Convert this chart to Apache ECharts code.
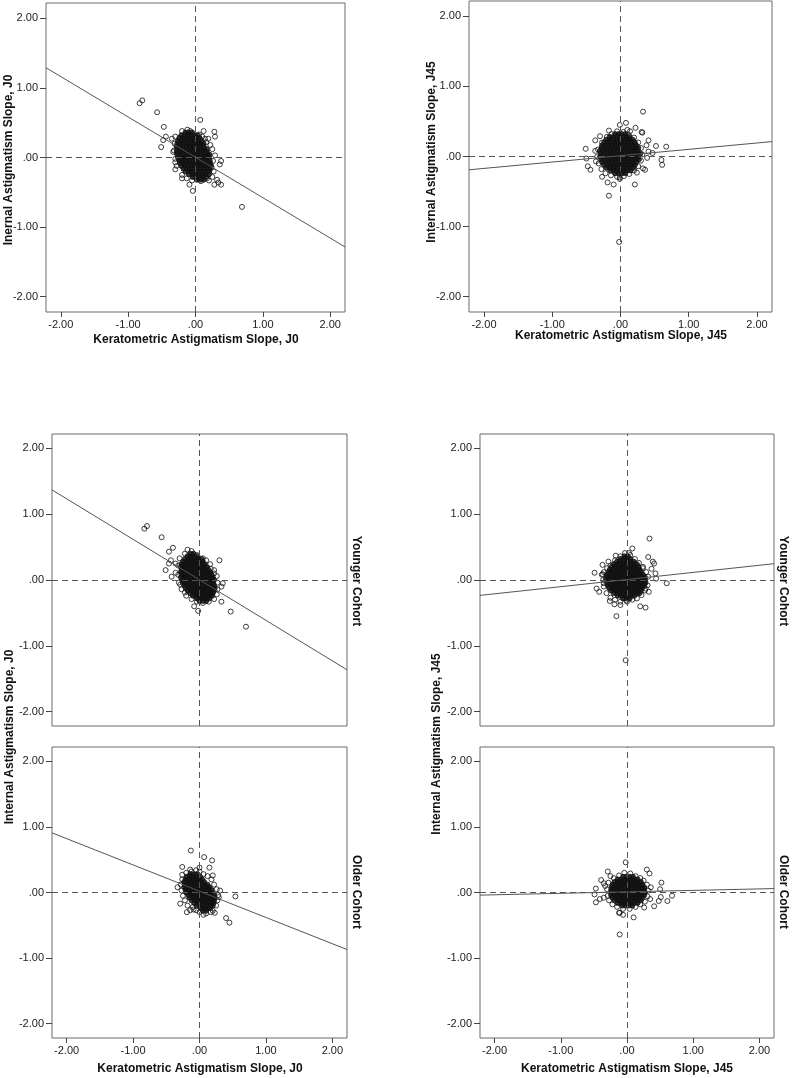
<!DOCTYPE html>
<html><head><meta charset="utf-8">
<script src="https://cdn.jsdelivr.net/npm/echarts@6/dist/echarts.min.js"></script>
<style>html,body{margin:0;padding:0;background:#fff}#c{width:792px;height:1078px}</style>
</head><body><div id="c"></div>
<script>
// ---------- tick values ----------
const tickValues = [-2, -1, 0, 1, 2];
const axisMin = -2.22, axisMax = 2.22;

// ---------- Panel 1: all subjects, J0 ----------
const j0AllCore = [
[-0.15,0.36],[-0.10,0.36],[-0.05,0.36],
[-0.21,0.32],[-0.16,0.32],[-0.11,0.32],[-0.06,0.32],[-0.01,0.32],[0.03,0.32],
[-0.24,0.28],[-0.19,0.28],[-0.14,0.28],[-0.09,0.28],[-0.04,0.28],[0.01,0.28],[0.06,0.28],
[-0.26,0.24],[-0.21,0.24],[-0.16,0.24],[-0.11,0.24],[-0.06,0.24],[-0.01,0.24],[0.04,0.24],[0.09,0.24],
[-0.27,0.20],[-0.22,0.20],[-0.17,0.20],[-0.12,0.20],[-0.07,0.20],[-0.02,0.20],[0.03,0.20],[0.08,0.20],[0.12,0.20],
[-0.28,0.16],[-0.23,0.16],[-0.18,0.16],[-0.13,0.16],[-0.08,0.16],[-0.03,0.16],[0.02,0.16],[0.07,0.16],[0.12,0.16],
[-0.27,0.12],[-0.22,0.12],[-0.17,0.12],[-0.12,0.12],[-0.07,0.12],[-0.02,0.12],[0.03,0.12],[0.08,0.12],[0.13,0.12],[0.17,0.12],
[-0.28,0.08],[-0.23,0.08],[-0.18,0.08],[-0.13,0.08],[-0.08,0.08],[-0.03,0.08],[0.02,0.08],[0.07,0.08],[0.12,0.08],[0.17,0.08],
[-0.27,0.04],[-0.22,0.04],[-0.17,0.04],[-0.12,0.04],[-0.07,0.04],[-0.02,0.04],[0.03,0.04],[0.08,0.04],[0.13,0.04],[0.18,0.04],[0.21,0.04],
[-0.26,0.00],[-0.21,0.00],[-0.16,0.00],[-0.11,0.00],[-0.06,0.00],[-0.01,0.00],[0.04,0.00],[0.09,0.00],[0.14,0.00],[0.19,0.00],
[-0.24,-0.04],[-0.19,-0.04],[-0.14,-0.04],[-0.09,-0.04],[-0.04,-0.04],[0.01,-0.04],[0.06,-0.04],[0.11,-0.04],[0.16,-0.04],[0.21,-0.04],
[-0.23,-0.08],[-0.18,-0.08],[-0.13,-0.08],[-0.08,-0.08],[-0.03,-0.08],[0.02,-0.08],[0.07,-0.08],[0.12,-0.08],[0.17,-0.08],[0.22,-0.08],
[-0.21,-0.12],[-0.16,-0.12],[-0.11,-0.12],[-0.06,-0.12],[-0.01,-0.12],[0.04,-0.12],[0.09,-0.12],[0.14,-0.12],[0.19,-0.12],[0.23,-0.12],
[-0.18,-0.16],[-0.13,-0.16],[-0.08,-0.16],[-0.03,-0.16],[0.02,-0.16],[0.07,-0.16],[0.12,-0.16],[0.17,-0.16],[0.22,-0.16],
[-0.15,-0.20],[-0.10,-0.20],[-0.05,-0.20],[0.00,-0.20],[0.05,-0.20],[0.10,-0.20],[0.15,-0.20],[0.20,-0.20],
[-0.10,-0.24],[-0.05,-0.24],[0.00,-0.24],[0.05,-0.24],[0.10,-0.24],[0.15,-0.24],[0.20,-0.24],
[-0.04,-0.28],[0.01,-0.28],[0.06,-0.28],[0.11,-0.28],[0.16,-0.28],
[0.02,-0.32],[0.07,-0.32],[0.12,-0.32]
];
const j0AllRim = [
[-0.31,0.20],[-0.30,0.30],[-0.20,0.38],[-0.12,0.40],[0.05,0.33],[0.10,0.30],[0.16,0.22],[0.25,0.12],
[0.26,-0.05],[0.27,-0.20],[0.25,-0.28],[0.20,-0.33],[0.08,-0.34],[-0.05,-0.33],[-0.13,-0.30],[-0.20,-0.25],
[-0.28,-0.12],[-0.30,-0.02],[-0.32,0.10],[-0.08,0.38],[0.14,0.27],[0.24,-0.14]
];
const j0AllOut = [
[-0.83,0.78],[-0.79,0.82],[-0.57,0.65],[0.07,0.54],[-0.47,0.44],[-0.44,0.30],[-0.48,0.25],[-0.51,0.15],
[-0.35,0.27],[-0.33,0.08],[-0.30,-0.07],[-0.30,-0.17],[-0.20,-0.30],[-0.09,-0.39],[-0.04,-0.48],[0.69,-0.71],
[0.12,0.38],[0.28,0.37],[0.29,0.30],[0.19,0.27],[0.22,0.18],[0.29,0.03],[0.38,-0.05],[0.36,-0.10],
[0.32,-0.32],[0.34,-0.36],[0.28,-0.39],[0.38,-0.39],[0.17,-0.30],[0.05,-0.30]
];
const j0AllFit = [[-2.22,1.29],[2.22,-1.285]];

// ---------- Panel 2: all subjects, J45 ----------
const j45AllCore = [
[-0.08,0.32],[-0.03,0.32],[0.02,0.32],[0.07,0.32],
[-0.16,0.28],[-0.11,0.28],[-0.06,0.28],[-0.01,0.28],[0.04,0.28],[0.09,0.28],[0.13,0.28],
[-0.21,0.24],[-0.16,0.24],[-0.11,0.24],[-0.06,0.24],[-0.01,0.24],[0.04,0.24],[0.09,0.24],[0.14,0.24],[0.18,0.24],
[-0.24,0.20],[-0.19,0.20],[-0.14,0.20],[-0.09,0.20],[-0.04,0.20],[0.01,0.20],[0.06,0.20],[0.11,0.20],[0.16,0.20],[0.21,0.20],
[-0.27,0.16],[-0.22,0.16],[-0.17,0.16],[-0.12,0.16],[-0.07,0.16],[-0.02,0.16],[0.03,0.16],[0.08,0.16],[0.13,0.16],[0.18,0.16],[0.23,0.16],
[-0.28,0.12],[-0.23,0.12],[-0.18,0.12],[-0.13,0.12],[-0.08,0.12],[-0.03,0.12],[0.02,0.12],[0.07,0.12],[0.12,0.12],[0.17,0.12],[0.22,0.12],[0.26,0.12],
[-0.30,0.08],[-0.25,0.08],[-0.20,0.08],[-0.15,0.08],[-0.10,0.08],[-0.05,0.08],[0.00,0.08],[0.05,0.08],[0.10,0.08],[0.15,0.08],[0.20,0.08],[0.25,0.08],
[-0.29,0.04],[-0.24,0.04],[-0.19,0.04],[-0.14,0.04],[-0.09,0.04],[-0.04,0.04],[0.01,0.04],[0.06,0.04],[0.11,0.04],[0.16,0.04],[0.21,0.04],[0.26,0.04],[0.29,0.04],
[-0.30,0.00],[-0.25,0.00],[-0.20,0.00],[-0.15,0.00],[-0.10,0.00],[-0.05,0.00],[0.00,0.00],[0.05,0.00],[0.10,0.00],[0.15,0.00],[0.20,0.00],[0.25,0.00],
[-0.28,-0.04],[-0.23,-0.04],[-0.18,-0.04],[-0.13,-0.04],[-0.08,-0.04],[-0.03,-0.04],[0.02,-0.04],[0.07,-0.04],[0.12,-0.04],[0.17,-0.04],[0.22,-0.04],[0.27,-0.04],
[-0.27,-0.08],[-0.22,-0.08],[-0.17,-0.08],[-0.12,-0.08],[-0.07,-0.08],[-0.02,-0.08],[0.03,-0.08],[0.08,-0.08],[0.13,-0.08],[0.18,-0.08],[0.23,-0.08],
[-0.24,-0.12],[-0.19,-0.12],[-0.14,-0.12],[-0.09,-0.12],[-0.04,-0.12],[0.01,-0.12],[0.06,-0.12],[0.11,-0.12],[0.16,-0.12],[0.21,-0.12],
[-0.21,-0.16],[-0.16,-0.16],[-0.11,-0.16],[-0.06,-0.16],[-0.01,-0.16],[0.04,-0.16],[0.09,-0.16],[0.14,-0.16],[0.19,-0.16],
[-0.15,-0.20],[-0.10,-0.20],[-0.05,-0.20],[0.00,-0.20],[0.05,-0.20],[0.10,-0.20],[0.15,-0.20],
[-0.08,-0.24],[-0.03,-0.24],[0.02,-0.24],[0.07,-0.24]
];
const j45AllRim = [
[-0.33,0.10],[-0.34,0.00],[-0.32,-0.10],[-0.28,-0.18],[-0.22,-0.24],[-0.14,-0.27],[-0.05,-0.29],[0.05,-0.28],
[0.13,-0.25],[0.20,-0.20],[0.26,-0.14],[0.30,-0.06],[0.32,0.03],[0.30,0.12],[0.26,0.20],[0.20,0.27],
[0.12,0.31],[0.04,0.35],[-0.05,0.36],[-0.13,0.32],[-0.20,0.28],[-0.27,0.20]
];
const j45AllOut = [
[0.33,0.64],[0.08,0.48],[-0.01,0.45],[0.10,0.38],[0.14,0.36],[-0.17,0.37],[-0.30,0.29],[-0.37,0.23],
[-0.51,0.11],[-0.50,-0.03],[-0.48,-0.14],[-0.44,-0.19],[-0.37,0.08],[-0.36,-0.07],[-0.27,-0.29],[-0.19,-0.37],
[-0.10,-0.40],[-0.01,-0.32],[-0.01,-0.30],[-0.17,-0.56],[-0.02,-1.22],[0.21,-0.40],[0.31,0.35],[0.32,0.34],
[0.41,0.23],[0.38,0.16],[0.52,0.15],[0.67,0.14],[0.60,-0.05],[0.61,-0.12],[0.47,0.05],[0.41,0.07],
[0.39,-0.02],[0.36,-0.19],[0.33,-0.17],[0.24,-0.23],[0.22,0.41]
];
const j45AllFit = [[-2.22,-0.19],[2.22,0.213]];

// ---------- Panel 3: younger cohort, J0 ----------
const j0YoungCore = [
[-0.14,0.40],[-0.09,0.40],
[-0.18,0.36],[-0.13,0.36],[-0.08,0.36],[-0.03,0.36],
[-0.22,0.32],[-0.17,0.32],[-0.12,0.32],[-0.07,0.32],[-0.02,0.32],[0.03,0.32],
[-0.25,0.28],[-0.20,0.28],[-0.15,0.28],[-0.10,0.28],[-0.05,0.28],[0.00,0.28],[0.05,0.28],
[-0.27,0.24],[-0.22,0.24],[-0.17,0.24],[-0.12,0.24],[-0.07,0.24],[-0.02,0.24],[0.03,0.24],[0.08,0.24],
[-0.28,0.20],[-0.23,0.20],[-0.18,0.20],[-0.13,0.20],[-0.08,0.20],[-0.03,0.20],[0.02,0.20],[0.07,0.20],[0.11,0.20],
[-0.27,0.16],[-0.22,0.16],[-0.17,0.16],[-0.12,0.16],[-0.07,0.16],[-0.02,0.16],[0.03,0.16],[0.08,0.16],[0.13,0.16],
[-0.28,0.12],[-0.23,0.12],[-0.18,0.12],[-0.13,0.12],[-0.08,0.12],[-0.03,0.12],[0.02,0.12],[0.07,0.12],[0.12,0.12],[0.16,0.12],
[-0.27,0.08],[-0.22,0.08],[-0.17,0.08],[-0.12,0.08],[-0.07,0.08],[-0.02,0.08],[0.03,0.08],[0.08,0.08],[0.13,0.08],[0.18,0.08],
[-0.28,0.04],[-0.23,0.04],[-0.18,0.04],[-0.13,0.04],[-0.08,0.04],[-0.03,0.04],[0.02,0.04],[0.07,0.04],[0.12,0.04],[0.17,0.04],[0.20,0.04],
[-0.26,0.00],[-0.21,0.00],[-0.16,0.00],[-0.11,0.00],[-0.06,0.00],[-0.01,0.00],[0.04,0.00],[0.09,0.00],[0.14,0.00],[0.19,0.00],[0.22,0.00],
[-0.25,-0.04],[-0.20,-0.04],[-0.15,-0.04],[-0.10,-0.04],[-0.05,-0.04],[0.00,-0.04],[0.05,-0.04],[0.10,-0.04],[0.15,-0.04],[0.20,-0.04],
[-0.23,-0.08],[-0.18,-0.08],[-0.13,-0.08],[-0.08,-0.08],[-0.03,-0.08],[0.02,-0.08],[0.07,-0.08],[0.12,-0.08],[0.17,-0.08],[0.22,-0.08],
[-0.21,-0.12],[-0.16,-0.12],[-0.11,-0.12],[-0.06,-0.12],[-0.01,-0.12],[0.04,-0.12],[0.09,-0.12],[0.14,-0.12],[0.19,-0.12],[0.23,-0.12],
[-0.18,-0.16],[-0.13,-0.16],[-0.08,-0.16],[-0.03,-0.16],[0.02,-0.16],[0.07,-0.16],[0.12,-0.16],[0.17,-0.16],[0.21,-0.16],
[-0.14,-0.20],[-0.09,-0.20],[-0.04,-0.20],[0.01,-0.20],[0.06,-0.20],[0.11,-0.20],[0.16,-0.20],[0.20,-0.20],
[-0.10,-0.24],[-0.05,-0.24],[0.00,-0.24],[0.05,-0.24],[0.10,-0.24],[0.15,-0.24],[0.19,-0.24],
[-0.04,-0.28],[0.01,-0.28],[0.06,-0.28],[0.11,-0.28],[0.15,-0.28],
[0.00,-0.32],[0.05,-0.32],[0.10,-0.32]
];
const j0YoungRim = [
[-0.32,0.22],[-0.30,0.33],[-0.22,0.40],[-0.12,0.44],[-0.04,0.38],[0.05,0.33],[0.10,0.30],[0.16,0.24],
[0.22,0.15],[0.26,0.06],[0.27,-0.04],[0.27,-0.14],[0.26,-0.22],[0.22,-0.29],[0.14,-0.33],[0.05,-0.35],
[-0.04,-0.33],[-0.12,-0.29],[-0.20,-0.24],[-0.27,-0.14],[-0.31,-0.04],[-0.32,0.08]
];
const j0YoungOut = [
[-0.83,0.78],[-0.79,0.82],[-0.57,0.65],[-0.46,0.43],[-0.40,0.49],[-0.43,0.30],[-0.46,0.25],[-0.51,0.15],
[-0.36,0.25],[-0.36,0.11],[-0.42,0.05],[-0.18,0.46],[-0.29,-0.07],[-0.22,-0.19],[-0.08,-0.40],[-0.02,-0.47],
[0.30,0.30],[0.33,-0.33],[0.47,-0.48],[0.70,-0.71],[0.35,-0.05],[0.33,-0.10],[0.17,0.17],[0.22,0.10],[0.22,-0.15]
];
const j0YoungFit = [[-2.22,1.37],[2.22,-1.365]];

// ---------- Panel 4: older cohort, J0 ----------
const j0OldCore = [
[-0.14,0.28],[-0.09,0.28],[-0.04,0.28],
[-0.19,0.24],[-0.14,0.24],[-0.09,0.24],[-0.04,0.24],[0.01,0.24],
[-0.21,0.20],[-0.16,0.20],[-0.11,0.20],[-0.06,0.20],[-0.01,0.20],[0.04,0.20],
[-0.23,0.16],[-0.18,0.16],[-0.13,0.16],[-0.08,0.16],[-0.03,0.16],[0.02,0.16],[0.07,0.16],
[-0.22,0.12],[-0.17,0.12],[-0.12,0.12],[-0.07,0.12],[-0.02,0.12],[0.03,0.12],[0.08,0.12],[0.12,0.12],
[-0.23,0.08],[-0.18,0.08],[-0.13,0.08],[-0.08,0.08],[-0.03,0.08],[0.02,0.08],[0.07,0.08],[0.12,0.08],[0.15,0.08],
[-0.21,0.04],[-0.16,0.04],[-0.11,0.04],[-0.06,0.04],[-0.01,0.04],[0.04,0.04],[0.09,0.04],[0.14,0.04],[0.18,0.04],
[-0.20,0.00],[-0.15,0.00],[-0.10,0.00],[-0.05,0.00],[0.00,0.00],[0.05,0.00],[0.10,0.00],[0.15,0.00],[0.19,0.00],
[-0.17,-0.04],[-0.12,-0.04],[-0.07,-0.04],[-0.02,-0.04],[0.03,-0.04],[0.08,-0.04],[0.13,-0.04],[0.18,-0.04],[0.22,-0.04],
[-0.15,-0.08],[-0.10,-0.08],[-0.05,-0.08],[0.00,-0.08],[0.05,-0.08],[0.10,-0.08],[0.15,-0.08],[0.20,-0.08],[0.23,-0.08],
[-0.12,-0.12],[-0.07,-0.12],[-0.02,-0.12],[0.03,-0.12],[0.08,-0.12],[0.13,-0.12],[0.18,-0.12],[0.22,-0.12],
[-0.08,-0.16],[-0.03,-0.16],[0.02,-0.16],[0.07,-0.16],[0.12,-0.16],[0.17,-0.16],[0.21,-0.16],
[-0.04,-0.20],[0.01,-0.20],[0.06,-0.20],[0.11,-0.20],[0.16,-0.20],[0.20,-0.20],
[0.02,-0.24],[0.07,-0.24],[0.12,-0.24],[0.16,-0.24],
[0.05,-0.28],[0.10,-0.28]
];
const j0OldRim = [
[-0.26,0.20],[-0.28,0.12],[-0.27,0.03],[-0.25,-0.05],[-0.22,-0.12],[-0.18,-0.20],[-0.10,-0.22],[-0.05,-0.27],
[0.00,-0.30],[0.10,-0.32],[0.20,-0.28],[0.25,-0.20],[0.27,-0.12],[0.28,-0.04],[0.26,0.05],[0.22,0.12],
[0.18,0.20],[0.12,0.25],[0.06,0.28],[0.00,0.32],[-0.05,0.34],[-0.12,0.32],[-0.20,0.30]
];
const j0OldOut = [
[-0.13,0.64],[0.07,0.54],[0.19,0.49],[0.15,0.38],[0.00,0.38],[-0.26,0.39],[-0.14,0.35],[-0.26,0.27],
[0.20,0.26],[-0.33,0.08],[-0.29,-0.17],[-0.19,-0.30],[-0.14,-0.27],[-0.09,-0.26],[0.17,-0.30],[0.23,-0.31],
[0.06,-0.34],[0.40,-0.39],[0.45,-0.46],[0.54,-0.06],[0.31,0.03],[0.29,-0.07]
];
const j0OldFit = [[-2.22,0.91],[2.22,-0.87]];

// ---------- Panel 5: younger cohort, J45 ----------
const j45YoungCore = [
[-0.04,0.36],[0.01,0.36],
[-0.10,0.32],[-0.05,0.32],[0.00,0.32],[0.05,0.32],
[-0.15,0.28],[-0.10,0.28],[-0.05,0.28],[0.00,0.28],[0.05,0.28],[0.10,0.28],
[-0.20,0.24],[-0.15,0.24],[-0.10,0.24],[-0.05,0.24],[0.00,0.24],[0.05,0.24],[0.10,0.24],[0.15,0.24],
[-0.23,0.20],[-0.18,0.20],[-0.13,0.20],[-0.08,0.20],[-0.03,0.20],[0.02,0.20],[0.07,0.20],[0.12,0.20],[0.17,0.20],
[-0.26,0.16],[-0.21,0.16],[-0.16,0.16],[-0.11,0.16],[-0.06,0.16],[-0.01,0.16],[0.04,0.16],[0.09,0.16],[0.14,0.16],[0.19,0.16],
[-0.28,0.12],[-0.23,0.12],[-0.18,0.12],[-0.13,0.12],[-0.08,0.12],[-0.03,0.12],[0.02,0.12],[0.07,0.12],[0.12,0.12],[0.17,0.12],[0.21,0.12],
[-0.30,0.08],[-0.25,0.08],[-0.20,0.08],[-0.15,0.08],[-0.10,0.08],[-0.05,0.08],[0.00,0.08],[0.05,0.08],[0.10,0.08],[0.15,0.08],[0.20,0.08],[0.24,0.08],
[-0.31,0.04],[-0.26,0.04],[-0.21,0.04],[-0.16,0.04],[-0.11,0.04],[-0.06,0.04],[-0.01,0.04],[0.04,0.04],[0.09,0.04],[0.14,0.04],[0.19,0.04],[0.24,0.04],[0.27,0.04],
[-0.32,0.00],[-0.27,0.00],[-0.22,0.00],[-0.17,0.00],[-0.12,0.00],[-0.07,0.00],[-0.02,0.00],[0.03,0.00],[0.08,0.00],[0.13,0.00],[0.18,0.00],[0.23,0.00],[0.27,0.00],
[-0.30,-0.04],[-0.25,-0.04],[-0.20,-0.04],[-0.15,-0.04],[-0.10,-0.04],[-0.05,-0.04],[0.00,-0.04],[0.05,-0.04],[0.10,-0.04],[0.15,-0.04],[0.20,-0.04],[0.25,-0.04],[0.28,-0.04],
[-0.29,-0.08],[-0.24,-0.08],[-0.19,-0.08],[-0.14,-0.08],[-0.09,-0.08],[-0.04,-0.08],[0.01,-0.08],[0.06,-0.08],[0.11,-0.08],[0.16,-0.08],[0.21,-0.08],[0.26,-0.08],
[-0.27,-0.12],[-0.22,-0.12],[-0.17,-0.12],[-0.12,-0.12],[-0.07,-0.12],[-0.02,-0.12],[0.03,-0.12],[0.08,-0.12],[0.13,-0.12],[0.18,-0.12],[0.23,-0.12],
[-0.24,-0.16],[-0.19,-0.16],[-0.14,-0.16],[-0.09,-0.16],[-0.04,-0.16],[0.01,-0.16],[0.06,-0.16],[0.11,-0.16],[0.16,-0.16],[0.21,-0.16],
[-0.20,-0.20],[-0.15,-0.20],[-0.10,-0.20],[-0.05,-0.20],[0.00,-0.20],[0.05,-0.20],[0.10,-0.20],[0.15,-0.20],[0.19,-0.20],
[-0.14,-0.24],[-0.09,-0.24],[-0.04,-0.24],[0.01,-0.24],[0.06,-0.24],[0.11,-0.24],
[-0.06,-0.28],[-0.01,-0.28],[0.04,-0.28]
];
const j45YoungRim = [
[-0.35,0.12],[-0.36,0.00],[-0.35,-0.10],[-0.31,-0.20],[-0.25,-0.27],[-0.18,-0.30],[-0.10,-0.33],[0.00,-0.33],
[0.08,-0.30],[0.15,-0.28],[0.22,-0.23],[0.27,-0.16],[0.31,-0.08],[0.32,0.05],[0.29,0.12],[0.24,0.20],
[0.18,0.26],[0.12,0.32],[0.05,0.38],[-0.03,0.41],[-0.10,0.36],[-0.18,0.30],[-0.25,0.22],[-0.30,0.18]
];
const j45YoungOut = [
[0.34,0.63],[0.08,0.48],[0.03,0.41],[-0.17,0.37],[-0.28,0.28],[-0.37,0.23],[-0.49,0.11],[-0.37,0.09],
[-0.38,0.08],[-0.46,-0.13],[-0.42,-0.18],[-0.35,-0.05],[-0.26,-0.32],[-0.19,-0.37],[-0.10,-0.38],[-0.01,-0.31],
[-0.16,-0.55],[-0.02,-1.22],[0.20,-0.40],[0.28,-0.42],[0.32,0.35],[0.39,0.28],[0.41,0.25],[0.37,0.17],
[0.43,0.10],[0.44,0.02],[0.60,-0.05],[0.33,-0.18],[0.28,-0.13],[0.24,0.18]
];
const j45YoungFit = [[-2.22,-0.234],[2.22,0.248]];

// ---------- Panel 6: older cohort, J45 ----------
const j45OldCore = [
[-0.06,0.24],[-0.01,0.24],[0.04,0.24],[0.09,0.24],
[-0.14,0.20],[-0.09,0.20],[-0.04,0.20],[0.01,0.20],[0.06,0.20],[0.11,0.20],[0.16,0.20],
[-0.19,0.16],[-0.14,0.16],[-0.09,0.16],[-0.04,0.16],[0.01,0.16],[0.06,0.16],[0.11,0.16],[0.16,0.16],[0.21,0.16],
[-0.22,0.12],[-0.17,0.12],[-0.12,0.12],[-0.07,0.12],[-0.02,0.12],[0.03,0.12],[0.08,0.12],[0.13,0.12],[0.18,0.12],[0.23,0.12],
[-0.23,0.08],[-0.18,0.08],[-0.13,0.08],[-0.08,0.08],[-0.03,0.08],[0.02,0.08],[0.07,0.08],[0.12,0.08],[0.17,0.08],[0.22,0.08],[0.26,0.08],
[-0.24,0.04],[-0.19,0.04],[-0.14,0.04],[-0.09,0.04],[-0.04,0.04],[0.01,0.04],[0.06,0.04],[0.11,0.04],[0.16,0.04],[0.21,0.04],[0.26,0.04],
[-0.23,0.00],[-0.18,0.00],[-0.13,0.00],[-0.08,0.00],[-0.03,0.00],[0.02,0.00],[0.07,0.00],[0.12,0.00],[0.17,0.00],[0.22,0.00],[0.27,0.00],
[-0.24,-0.04],[-0.19,-0.04],[-0.14,-0.04],[-0.09,-0.04],[-0.04,-0.04],[0.01,-0.04],[0.06,-0.04],[0.11,-0.04],[0.16,-0.04],[0.21,-0.04],[0.26,-0.04],
[-0.22,-0.08],[-0.17,-0.08],[-0.12,-0.08],[-0.07,-0.08],[-0.02,-0.08],[0.03,-0.08],[0.08,-0.08],[0.13,-0.08],[0.18,-0.08],[0.23,-0.08],
[-0.19,-0.12],[-0.14,-0.12],[-0.09,-0.12],[-0.04,-0.12],[0.01,-0.12],[0.06,-0.12],[0.11,-0.12],[0.16,-0.12],[0.21,-0.12],
[-0.14,-0.16],[-0.09,-0.16],[-0.04,-0.16],[0.01,-0.16],[0.06,-0.16],[0.11,-0.16],[0.16,-0.16],
[-0.07,-0.20],[-0.02,-0.20],[0.03,-0.20],[0.08,-0.20]
];
const j45OldRim = [
[-0.28,0.15],[-0.30,0.05],[-0.29,-0.05],[-0.27,-0.12],[-0.22,-0.18],[-0.15,-0.22],[-0.06,-0.25],[0.04,-0.25],
[0.13,-0.22],[0.20,-0.18],[0.27,-0.14],[0.31,-0.06],[0.32,0.03],[0.30,0.12],[0.25,0.18],[0.20,0.22],
[0.13,0.25],[0.05,0.29],[-0.04,0.30],[-0.12,0.26],[-0.20,0.22],[0.36,0.08],[-0.33,0.10],[0.35,-0.10]
];
const j45OldOut = [
[-0.02,0.46],[-0.29,0.32],[0.30,0.35],[0.34,0.29],[0.52,0.15],[0.50,0.05],[0.51,-0.07],[0.61,-0.13],
[0.68,-0.05],[0.48,-0.13],[0.41,-0.21],[0.26,-0.23],[-0.39,0.19],[-0.47,0.06],[-0.49,-0.03],[-0.47,-0.15],
[-0.41,-0.10],[-0.35,-0.08],[-0.35,0.14],[-0.12,-0.31],[-0.11,-0.31],[-0.06,-0.34],[0.10,-0.38],[-0.11,-0.64],[-0.25,0.25]
];
const j45OldFit = [[-2.22,-0.04],[2.22,0.06]];

// ---------- texts ----------
const xTitleJ0 = 'Keratometric Astigmatism Slope, J0';
const xTitleJ45 = 'Keratometric Astigmatism Slope, J45';
const yTitleTopJ0 = 'Inernal Astigmatism Slope, J0';
const yTitleJ0 = 'Internal Astigmatism Slope, J0';
const yTitleJ45 = 'Internal Astigmatism Slope, J45';
const rowLabels = ['Younger Cohort', 'Older Cohort'];

// ---------- layout ----------
const FONT = '"Liberation Sans", Arial, Helvetica, sans-serif';
const grids = [
  {left:46, top:3, width:299, height:309},
  {left:469, top:1, width:303, height:311},
  {left:52, top:434, width:295, height:292},
  {left:52, top:747, width:295, height:291},
  {left:480, top:434, width:294, height:292},
  {left:480, top:747, width:294, height:291}
];
const showXLabels = [true, true, false, true, false, true];
const panels = [
  [j0AllCore, j0AllRim, j0AllOut, j0AllFit],
  [j45AllCore, j45AllRim, j45AllOut, j45AllFit],
  [j0YoungCore, j0YoungRim, j0YoungOut, j0YoungFit],
  [j0OldCore, j0OldRim, j0OldOut, j0OldFit],
  [j45YoungCore, j45YoungRim, j45YoungOut, j45YoungFit],
  [j45OldCore, j45OldRim, j45OldOut, j45OldFit]
];

const fmt = v => (v === 0 ? '.00' : v.toFixed(2));

const option = {
  animation: false,
  backgroundColor: '#fff',
  grid: grids.map(g => Object.assign({show:true, borderColor:'#6a6a6a', borderWidth:1, backgroundColor:'#fff'}, g)),
  xAxis: grids.map((g, i) => ({
    type:'value', gridIndex:i, min:axisMin, max:axisMax, position:'bottom',
    axisLine:{show:false, onZero:false}, splitLine:{show:false},
    axisTick:{show:showXLabels[i], customValues:tickValues, length:5, lineStyle:{color:'#444'}},
    axisLabel:{show:showXLabels[i], customValues:tickValues, formatter:fmt, margin:7, fontSize:11, color:'#222', fontFamily:FONT}
  })),
  yAxis: grids.map((g, i) => ({
    type:'value', gridIndex:i, min:axisMin, max:axisMax, position:'left',
    axisLine:{show:false, onZero:false}, splitLine:{show:false},
    axisTick:{show:true, customValues:tickValues, length:6, lineStyle:{color:'#444'}},
    axisLabel:{customValues:tickValues, formatter:fmt, margin:8, fontSize:11, color:'#222', fontFamily:FONT}
  })),
  series: [],
  graphic: []
};

panels.forEach((p, i) => {
  // dense core: overlapping circles render as a solid dark mass
  option.series.push({
    type:'scatter', xAxisIndex:i, yAxisIndex:i, data:p[0],
    symbol:'circle', symbolSize:5, silent:true,
    itemStyle:{color:'#111', borderColor:'#111', borderWidth:1},
    markLine:{
      silent:true, symbol:'none', label:{show:false}, animation:false,
      lineStyle:{type:[6,4], color:'#555', width:1},
      data:[{xAxis:0},{yAxis:0}]
    },
    z:3
  });
  option.series.push({
    type:'scatter', xAxisIndex:i, yAxisIndex:i, data:p[1].concat(p[2]),
    symbol:'circle', symbolSize:5, silent:true,
    itemStyle:{color:'rgba(255,255,255,0)', borderColor:'#111', borderWidth:1},
    z:3
  });
  option.series.push({
    type:'line', xAxisIndex:i, yAxisIndex:i, data:p[3],
    showSymbol:false, symbol:'none', silent:true,
    lineStyle:{color:'#555', width:1}, z:4
  });
});

function txt(text, x, y, rot) {
  return {type:'text', x:x, y:y, rotation:rot || 0, silent:true,
    style:{text:text, font:'bold 12px ' + FONT, fill:'#111',
      textAlign:'center', textVerticalAlign:'middle', align:'center', verticalAlign:'middle'}};
}
option.graphic = [
  txt(xTitleJ0, 196, 340),
  txt(xTitleJ45, 621, 336),
  txt(yTitleTopJ0, 9, 160, Math.PI/2),
  txt(yTitleJ45, 432, 152, Math.PI/2),
  txt(yTitleJ0, 10, 737, Math.PI/2),
  txt(yTitleJ45, 437, 744, Math.PI/2),
  txt(rowLabels[0], 356, 581, -Math.PI/2),
  txt(rowLabels[1], 356, 892, -Math.PI/2),
  txt(rowLabels[0], 783, 581, -Math.PI/2),
  txt(rowLabels[1], 783, 892, -Math.PI/2),
  txt(xTitleJ0, 200, 1069),
  txt(xTitleJ45, 627, 1069)
];

const chart = echarts.init(document.getElementById('c'), null, {renderer:'canvas', width:792, height:1078});
chart.setOption(option);
</script>
</body></html>
